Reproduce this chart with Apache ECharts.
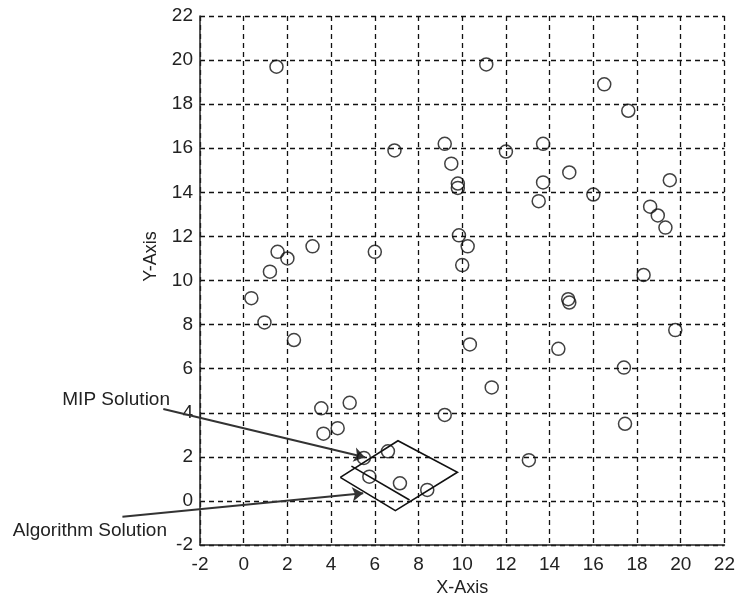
<!DOCTYPE html>
<html><head><meta charset="utf-8">
<script src="https://cdn.jsdelivr.net/npm/echarts@6/dist/echarts.min.js"></script>
<style>html,body{margin:0;padding:0;background:#fff}#c{width:738px;height:604px}</style>
</head><body><div id="c"></div>
<script>
// axis settings
const xMin = -2, xMax = 22, yMin = -2, yMax = 22, tickStep = 2;
const xName = 'X-Axis', yName = 'Y-Axis';

// scatter points
const pointX = [1.5, 11.1, 16.5, 17.6, 9.2, 12.0, 13.7, 6.9, 9.5, 9.8, 9.8, 14.9, 19.5, 13.7, 13.5, 16.0, 18.6, 18.95, 19.3, 9.85, 10.25, 10.0, 18.3, 1.55, 2.0, 3.15, 6.0, 1.2, 0.35, 0.95, 2.3, 14.85, 14.9, 19.75, 10.35, 14.4, 17.4, 11.35, 17.45, 13.05, 9.2, 3.55, 4.85, 3.65, 4.3, 6.6, 5.5, 5.75, 7.15, 8.4];
const pointY = [19.7, 19.8, 18.9, 17.7, 16.2, 15.85, 16.2, 15.9, 15.3, 14.4, 14.2, 14.9, 14.55, 14.45, 13.6, 13.9, 13.35, 12.95, 12.4, 12.05, 11.55, 10.7, 10.25, 11.3, 11.0, 11.55, 11.3, 10.4, 9.2, 8.1, 7.3, 9.15, 9.0, 7.75, 7.1, 6.9, 6.05, 5.15, 3.5, 1.85, 3.9, 4.2, 4.45, 3.05, 3.3, 2.25, 1.95, 1.1, 0.8, 0.5];

// annotation shapes (data coordinates)
const rhombusX = [4.42, 7.06, 9.78, 6.94, 4.42];
const rhombusY = [1.07, 2.73, 1.3, -0.44, 1.07];
const innerX = [4.93, 7.59];
const innerY = [1.58, 0.04];
const mipArrowX = [-3.68, 5.55];
const mipArrowY = [4.17, 1.98];
const algArrowX = [-5.55, 5.47];
const algArrowY = [-0.72, 0.35];
const annotationLabels = ['MIP Solution', 'Algorithm Solution'];

const FONT = "'Liberation Sans', Arial, sans-serif";
const zip = (a, b) => a.map((v, i) => [v, b[i]]);

const chart = echarts.init(document.getElementById('c'), null, {renderer: 'canvas'});
const dashed = {show: true, lineStyle: {color: '#111', type: [5, 4], width: 1.3}};
chart.setOption({
  animation: false,
  backgroundColor: '#fff',
  grid: {left: 200, right: 8, top: 16, bottom: 59, containLabel: false},
  xAxis: {
    type: 'value', min: xMin, max: xMax, interval: tickStep,
    name: xName, nameLocation: 'middle', nameGap: 34,
    nameTextStyle: {color: '#222', fontSize: 18, fontFamily: FONT},
    axisLine: {show: true, onZero: false, lineStyle: {color: '#222', width: 1.5}},
    axisTick: {show: false},
    axisLabel: {color: '#222', fontSize: 19, fontFamily: FONT, margin: 10},
    splitLine: dashed
  },
  yAxis: {
    type: 'value', min: yMin, max: yMax, interval: tickStep,
    name: yName, nameLocation: 'middle', nameGap: 40,
    nameTextStyle: {color: '#222', fontSize: 18, fontFamily: FONT, padding: [0, 0, 0, 48]},
    axisLine: {show: true, onZero: false, lineStyle: {color: '#222', width: 1.5}},
    axisTick: {show: false},
    axisLabel: {color: '#222', fontSize: 19, fontFamily: FONT, margin: 7},
    splitLine: dashed
  },
  series: [
    {
      type: 'scatter', data: zip(pointX, pointY), symbol: 'circle', symbolSize: 13,
      itemStyle: {color: 'rgba(0,0,0,0)', borderColor: '#111', borderWidth: 1.5}
    },
    {
      type: 'lines', coordinateSystem: 'cartesian2d', polyline: true, clip: false,
      symbol: 'none',
      lineStyle: {color: '#111', width: 1.6, opacity: 1},
      data: [{coords: zip(rhombusX, rhombusY)}, {coords: zip(innerX, innerY)}]
    },
    {
      type: 'lines', coordinateSystem: 'cartesian2d', clip: false,
      symbol: ['none', 'arrow'], symbolSize: 11,
      lineStyle: {color: '#333', width: 2, opacity: 1},
      data: [{coords: zip(mipArrowX, mipArrowY)}, {coords: zip(algArrowX, algArrowY)}]
    }
  ],
  graphic: [
    {type: 'text', x: 170, y: 400, style: {text: annotationLabels[0], align: 'right', verticalAlign: 'middle', font: '19px ' + FONT, fill: '#222'}},
    {type: 'text', x: 167, y: 531, style: {text: annotationLabels[1], align: 'right', verticalAlign: 'middle', font: '19px ' + FONT, fill: '#222'}}
  ]
});
</script></body></html>
